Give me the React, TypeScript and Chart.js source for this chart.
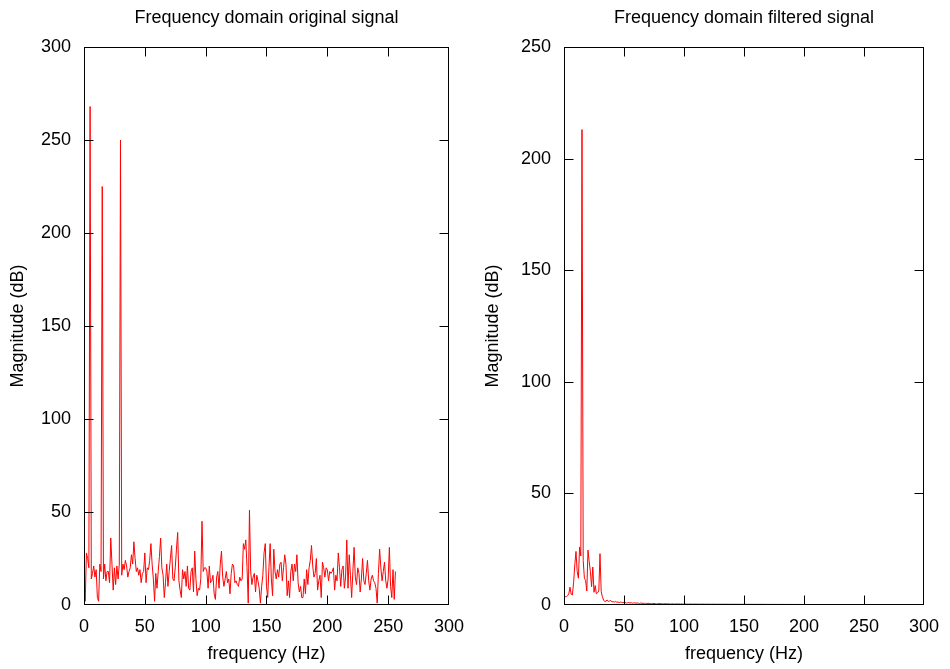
import React, { useEffect, useRef } from "react";
import { Chart, registerables } from "chart.js";

Chart.register(...registerables);

const FONT = "'Liberation Sans', Arial, Helvetica, sans-serif";

// Frequency axis: one sample per Hz, starting at 0 Hz
const FREQ_STEP_HZ = 1;

// Magnitude (dB) of the original signal, index = frequency in Hz (0..256)
const originalMagnitude: number[] = [
  30, 2, 28, 25, 20, 268, 14, 17, 21, 15,
  19, 4, 2, 22, 18, 225, 14, 22, 13, 18,
  18, 12, 36, 22, 8, 20, 11, 21, 14, 22,
  250, 16, 22, 19, 24, 21, 15, 18, 20, 27,
  22, 34, 25, 18, 20, 16, 19, 12, 17, 18,
  28, 12, 20, 19, 24, 33, 22, 14, 2, 17,
  9, 18, 26, 36, 20, 16, 4, 12, 22, 10,
  18, 25, 32, 14, 13, 20, 30, 39, 13, 8,
  4, 19, 14, 18, 10, 21, 9, 8, 18, 20,
  7, 29, 14, 5, 9, 8, 14, 45, 18, 20,
  20, 18, 9, 21, 12, 13, 16, 6, 3, 15,
  18, 9, 22, 29, 15, 10, 14, 18, 12, 14,
  6, 17, 22, 21, 12, 13, 11, 10, 15, 13,
  14, 33, 30, 35, 20, 1, 51, 18, 11, 15,
  17, 7, 16, 13, 9, 1, 10, 16, 28, 33,
  10, 4, 20, 33, 14, 5, 30, 18, 14, 19,
  15, 22, 23, 13, 20, 27, 22, 5, 13, 4,
  18, 22, 13, 22, 18, 27, 12, 7, 10, 4,
  4, 14, 6, 19, 11, 20, 24, 32, 21, 15,
  17, 25, 8, 13, 16, 4, 23, 20, 15, 20,
  19, 13, 18, 17, 18, 20, 8, 16, 13, 28,
  20, 10, 19, 21, 9, 15, 35, 9, 27, 16,
  4, 18, 31, 15, 11, 20, 17, 7, 14, 25,
  13, 11, 17, 24, 13, 8, 14, 16, 13, 12,
  9, 1, 17, 30, 20, 13, 18, 23, 13, 9,
  14, 31, 10, 4, 19, 3, 18,
];

// Magnitude (dB) of the filtered signal, index = frequency in Hz (0..256)
const filteredMagnitude: number[] = [
  3.6, 3.7, 3.8, 4.2, 5, 8, 4.8, 4.5, 10, 18,
  24, 15, 12, 26, 22, 213, 20, 12, 11, 6.3,
  24.6, 19.4, 15, 8.2, 17, 5.7, 8.7, 5, 5.5, 6.3,
  23, 6, 3.7, 2.2, 1.5, 1.8, 2.2, 1.6, 1.8, 2,
  1.4, 1.5, 1.3, 1.6, 1.2, 1.4, 1.1, 1.3, 1.2, 1.0,
  1.2, 1.1, 0.9, 1.0, 1.1, 0.9, 1.0, 0.8, 0.9, 1.0,
  0.8, 0.9, 0.8, 0.7, 0.9, 0.8, 0.7, 0.8, 0.7, 0.6,
  0.8, 0.7, 0.6, 0.7, 0.6, 0.7, 0.6, 0.5, 0.6, 0.7,
  0.6, 0.5, 0.6, 0.5, 0.6, 0.5, 0.5, 0.6, 0.5, 0.4,
  0.5, 0.5, 0.4, 0.5, 0.5, 0.4, 0.5, 0.4, 0.5, 0.4,
  0.4, 0.45, 0.4, 0.42, 0.38, 0.44, 0.4, 0.39, 0.42, 0.4,
  0.38, 0.41, 0.37, 0.4, 0.39, 0.36, 0.4, 0.38, 0.37, 0.39,
  0.36, 0.38, 0.37, 0.35, 0.38, 0.36, 0.35, 0.37, 0.34, 0.36,
  0.35, 0.34, 0.36, 0.33, 0.35, 0.34, 0.33, 0.35, 0.32, 0.34,
  0.33, 0.32, 0.34, 0.31, 0.33, 0.32, 0.31, 0.33, 0.3, 0.32,
  0.31, 0.3, 0.32, 0.3, 0.31, 0.29, 0.31, 0.3, 0.29, 0.3,
  0.29, 0.3, 0.28, 0.29, 0.3, 0.28, 0.29, 0.27, 0.29, 0.28,
  0.27, 0.28, 0.27, 0.28, 0.26, 0.28, 0.27, 0.26, 0.27, 0.26,
  0.27, 0.25, 0.26, 0.27, 0.25, 0.26, 0.25, 0.26, 0.24, 0.25,
  0.26, 0.24, 0.25, 0.24, 0.25, 0.24, 0.23, 0.25, 0.24, 0.23,
  0.24, 0.23, 0.24, 0.22, 0.23, 0.24, 0.22, 0.23, 0.22, 0.23,
  0.22, 0.21, 0.23, 0.22, 0.21, 0.22, 0.21, 0.22, 0.2, 0.21,
  0.22, 0.2, 0.21, 0.2, 0.21, 0.2, 0.19, 0.21, 0.2, 0.19,
  0.2, 0.19, 0.2, 0.18, 0.19, 0.2, 0.18, 0.19, 0.18, 0.19,
  0.18, 0.17, 0.19, 0.18, 0.17, 0.18, 0.17, 0.18, 0.16, 0.17,
  0.18, 0.16, 0.17, 0.16, 0.17, 0.16, 0.15,
];

const xTicksMax = 300;
const tickStep = 50;
const leftYMax = 300;
const rightYMax = 250;

const titles = ["Frequency domain original signal", "Frequency domain filtered signal"];
const xAxisTitle = "frequency (Hz)";
const yAxisTitle = "Magnitude (dB)";

const TICK_LEN = 9;

const framePlugin = {
  id: "gnuFrame",
  afterDatasetsDraw(chart: any) {
    const { ctx, chartArea: a, scales } = chart;
    const l = Math.round(a.left) + 0.5;
    const r = Math.round(a.right) - 0.5;
    const t = Math.round(a.top) + 0.5;
    const b = Math.round(a.bottom) - 0.5;
    ctx.save();
    ctx.strokeStyle = "#000";
    ctx.lineWidth = 1;
    ctx.beginPath();
    scales.x.ticks.forEach((tk: any) => {
      const px = Math.round(scales.x.getPixelForValue(tk.value)) + 0.5;
      if (px <= l + 1 || px >= r - 1) return;
      ctx.moveTo(px, b);
      ctx.lineTo(px, b - TICK_LEN);
      ctx.moveTo(px, t);
      ctx.lineTo(px, t + TICK_LEN);
    });
    scales.y.ticks.forEach((tk: any) => {
      const py = Math.round(scales.y.getPixelForValue(tk.value)) + 0.5;
      if (py <= t + 1 || py >= b - 1) return;
      ctx.moveTo(l, py);
      ctx.lineTo(l + TICK_LEN, py);
      ctx.moveTo(r, py);
      ctx.lineTo(r - TICK_LEN, py);
    });
    ctx.stroke();
    ctx.strokeRect(l, t, r - l, b - t);
    ctx.restore();
  },
};

function makeConfig(values: number[], yMax: number, title: string, padRight: number, yWidth: number): any {
  return {
    type: "line",
    data: {
      datasets: [
        {
          data: values.map((v, i) => ({ x: i * FREQ_STEP_HZ, y: v })),
          borderColor: "#ff0000",
          borderWidth: 1,
          pointRadius: 0,
          tension: 0,
          fill: false,
        },
      ],
    },
    options: {
      animation: false,
      responsive: false,
      devicePixelRatio: 1,
      layout: { padding: { left: 0, right: padRight, top: 0, bottom: 0 } },
      plugins: {
        legend: { display: false },
        tooltip: { enabled: false },
        title: {
          display: true,
          text: title,
          color: "#000",
          fullSize: false,
          font: { family: FONT, size: 18, weight: "normal" },
          padding: { top: 7, bottom: 18.4 },
        },
      },
      scales: {
        x: {
          type: "linear",
          min: 0,
          max: xTicksMax,
          ticks: {
            stepSize: tickStep,
            color: "#000",
            font: { family: FONT, size: 18 },
            padding: 11,
            maxRotation: 0,
          },
          grid: { display: false, drawTicks: false },
          border: { display: false },
          title: {
            display: true,
            text: xAxisTitle,
            color: "#000",
            font: { family: FONT, size: 18 },
            padding: { top: 0, bottom: 4 },
          },
          afterFit: (s: any) => {
            s.height = 64;
          },
        },
        y: {
          type: "linear",
          min: 0,
          max: yMax,
          ticks: {
            stepSize: tickStep,
            color: "#000",
            font: { family: FONT, size: 18 },
            padding: 13,
          },
          grid: { display: false, drawTicks: false },
          border: { display: false },
          title: {
            display: true,
            text: yAxisTitle,
            color: "#000",
            font: { family: FONT, size: 18 },
            padding: { top: 7, bottom: 0 },
          },
          afterFit: (s: any) => {
            s.width = yWidth;
          },
        },
      },
    },
    plugins: [framePlugin],
  };
}

export default function App() {
  const leftRef = useRef<HTMLCanvasElement | null>(null);
  const rightRef = useRef<HTMLCanvasElement | null>(null);

  useEffect(() => {
    const c1 = new Chart(leftRef.current as HTMLCanvasElement, makeConfig(originalMagnitude, leftYMax, titles[0], 26, 84));
    const c2 = new Chart(rightRef.current as HTMLCanvasElement, makeConfig(filteredMagnitude, rightYMax, titles[1], 21, 89));
    return () => {
      c1.destroy();
      c2.destroy();
    };
  }, []);

  return (
    <div style={{ position: "fixed", left: 0, top: 0, width: 950, height: 669, background: "#fff" }}>
      <canvas ref={leftRef} width={475} height={669} style={{ position: "absolute", left: 0, top: 0, width: 475, height: 669 }} />
      <canvas ref={rightRef} width={475} height={669} style={{ position: "absolute", left: 475, top: 0, width: 475, height: 669 }} />
    </div>
  );
}
